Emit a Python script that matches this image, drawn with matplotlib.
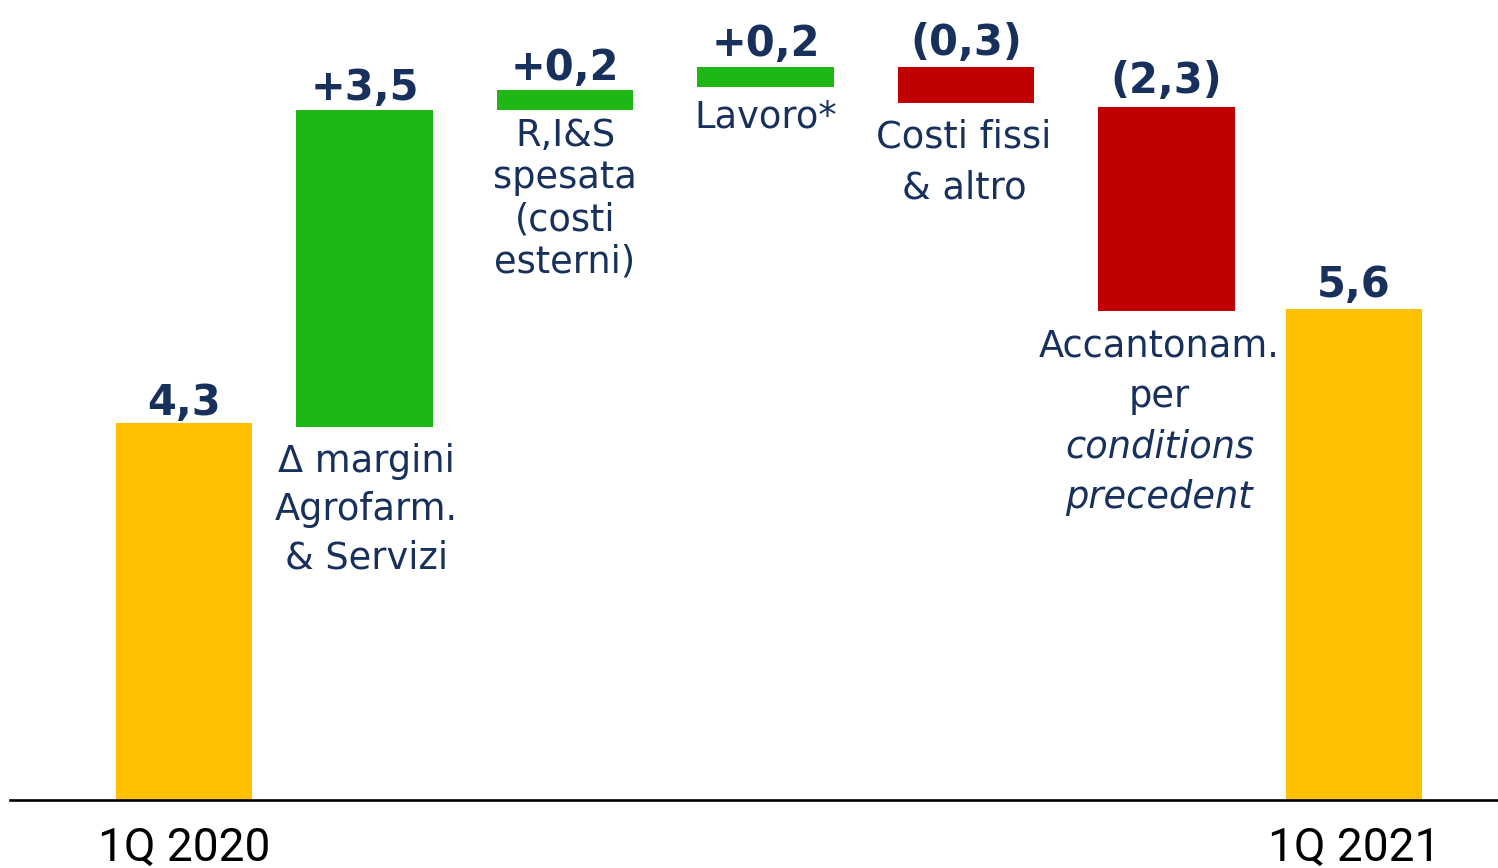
import matplotlib.pyplot as plt

# ---- data ----
categories = ["1Q 2020",
              ["Δ margini", "Agrofarm.", "& Servizi"],
              ["R,I&S", "spesata", "(costi", "esterni)"],
              ["Lavoro*"],
              ["Costi fissi", "& altro"],
              ["Accantonam.", "per", "conditions", "precedent"],
              "1Q 2021"]
value_labels = ["4,3", "+3,5", "+0,2", "+0,2", "(0,3)", "(2,3)", "5,6"]
bar_bottom = [0.0, 4.25, 7.87, 8.13, 7.94, 5.58, 0.0]
bar_top = [4.30, 7.86, 8.09, 8.35, 8.35, 7.90, 5.60]
bar_kind = ["total", "up", "up", "up", "down", "down", "total"]

# ---- layout / style ----
xpos = [0, 0.9, 1.9, 2.9, 3.9, 4.9, 5.835]
colors = {"total": "#FFC000", "up": "#1FB714", "down": "#C00000"}
navy = "#17305C"
val_pad = [8, 10, 10, 11, 12, 14, 12]          # px from bar top to label baseline
lab_layout = {1: (45, 48, 2), 2: (36, 42.3, 0), 3: (41, 0, 0),
              4: (44, 51, -2), 5: (46, 50.5, -7)}  # first baseline, spacing, dx (px)
italic_lines = {5: [2, 3]}

fig = plt.figure(figsize=(14.98, 8.68), dpi=100)
ax = fig.add_axes([0, 0, 1, 1])
ax.set_xlim(-0.918, 6.554)
ax.set_ylim(-0.7688, 9.1173)
ax.axis("off")

heights = [t - b for t, b in zip(bar_top, bar_bottom)]
ax.bar(xpos, heights, bottom=bar_bottom, width=0.68,
       color=[colors[k] for k in bar_kind], zorder=2)

ax.axhline(0, xmin=10 / 1498, xmax=1, color="black", lw=1.9, zorder=3)

for i, (x, t, lab) in enumerate(zip(xpos, bar_top, value_labels)):
    ax.annotate(lab, (x, t), xytext=(0, val_pad[i]), textcoords="offset pixels",
                ha="center", va="baseline", fontsize=30, fontweight="bold",
                color=navy, family="DejaVu Sans")

for i, (first, spacing, dx) in lab_layout.items():
    for j, line in enumerate(categories[i]):
        style = "italic" if j in italic_lines.get(i, []) else "normal"
        ax.annotate(line, (xpos[i], bar_bottom[i]),
                    xytext=(dx, -(first + j * spacing)), textcoords="offset pixels",
                    ha="center", va="baseline", fontsize=26.5, style=style,
                    color=navy, family="DejaVu Sans")

for i in (0, 6):
    ax.annotate(categories[i], (xpos[i], 0), xytext=(0, -60.5),
                textcoords="offset pixels", ha="center", va="baseline",
                fontsize=33, color="black", family=["Roboto", "DejaVu Sans"])

fig.savefig("out.png", dpi=100)
